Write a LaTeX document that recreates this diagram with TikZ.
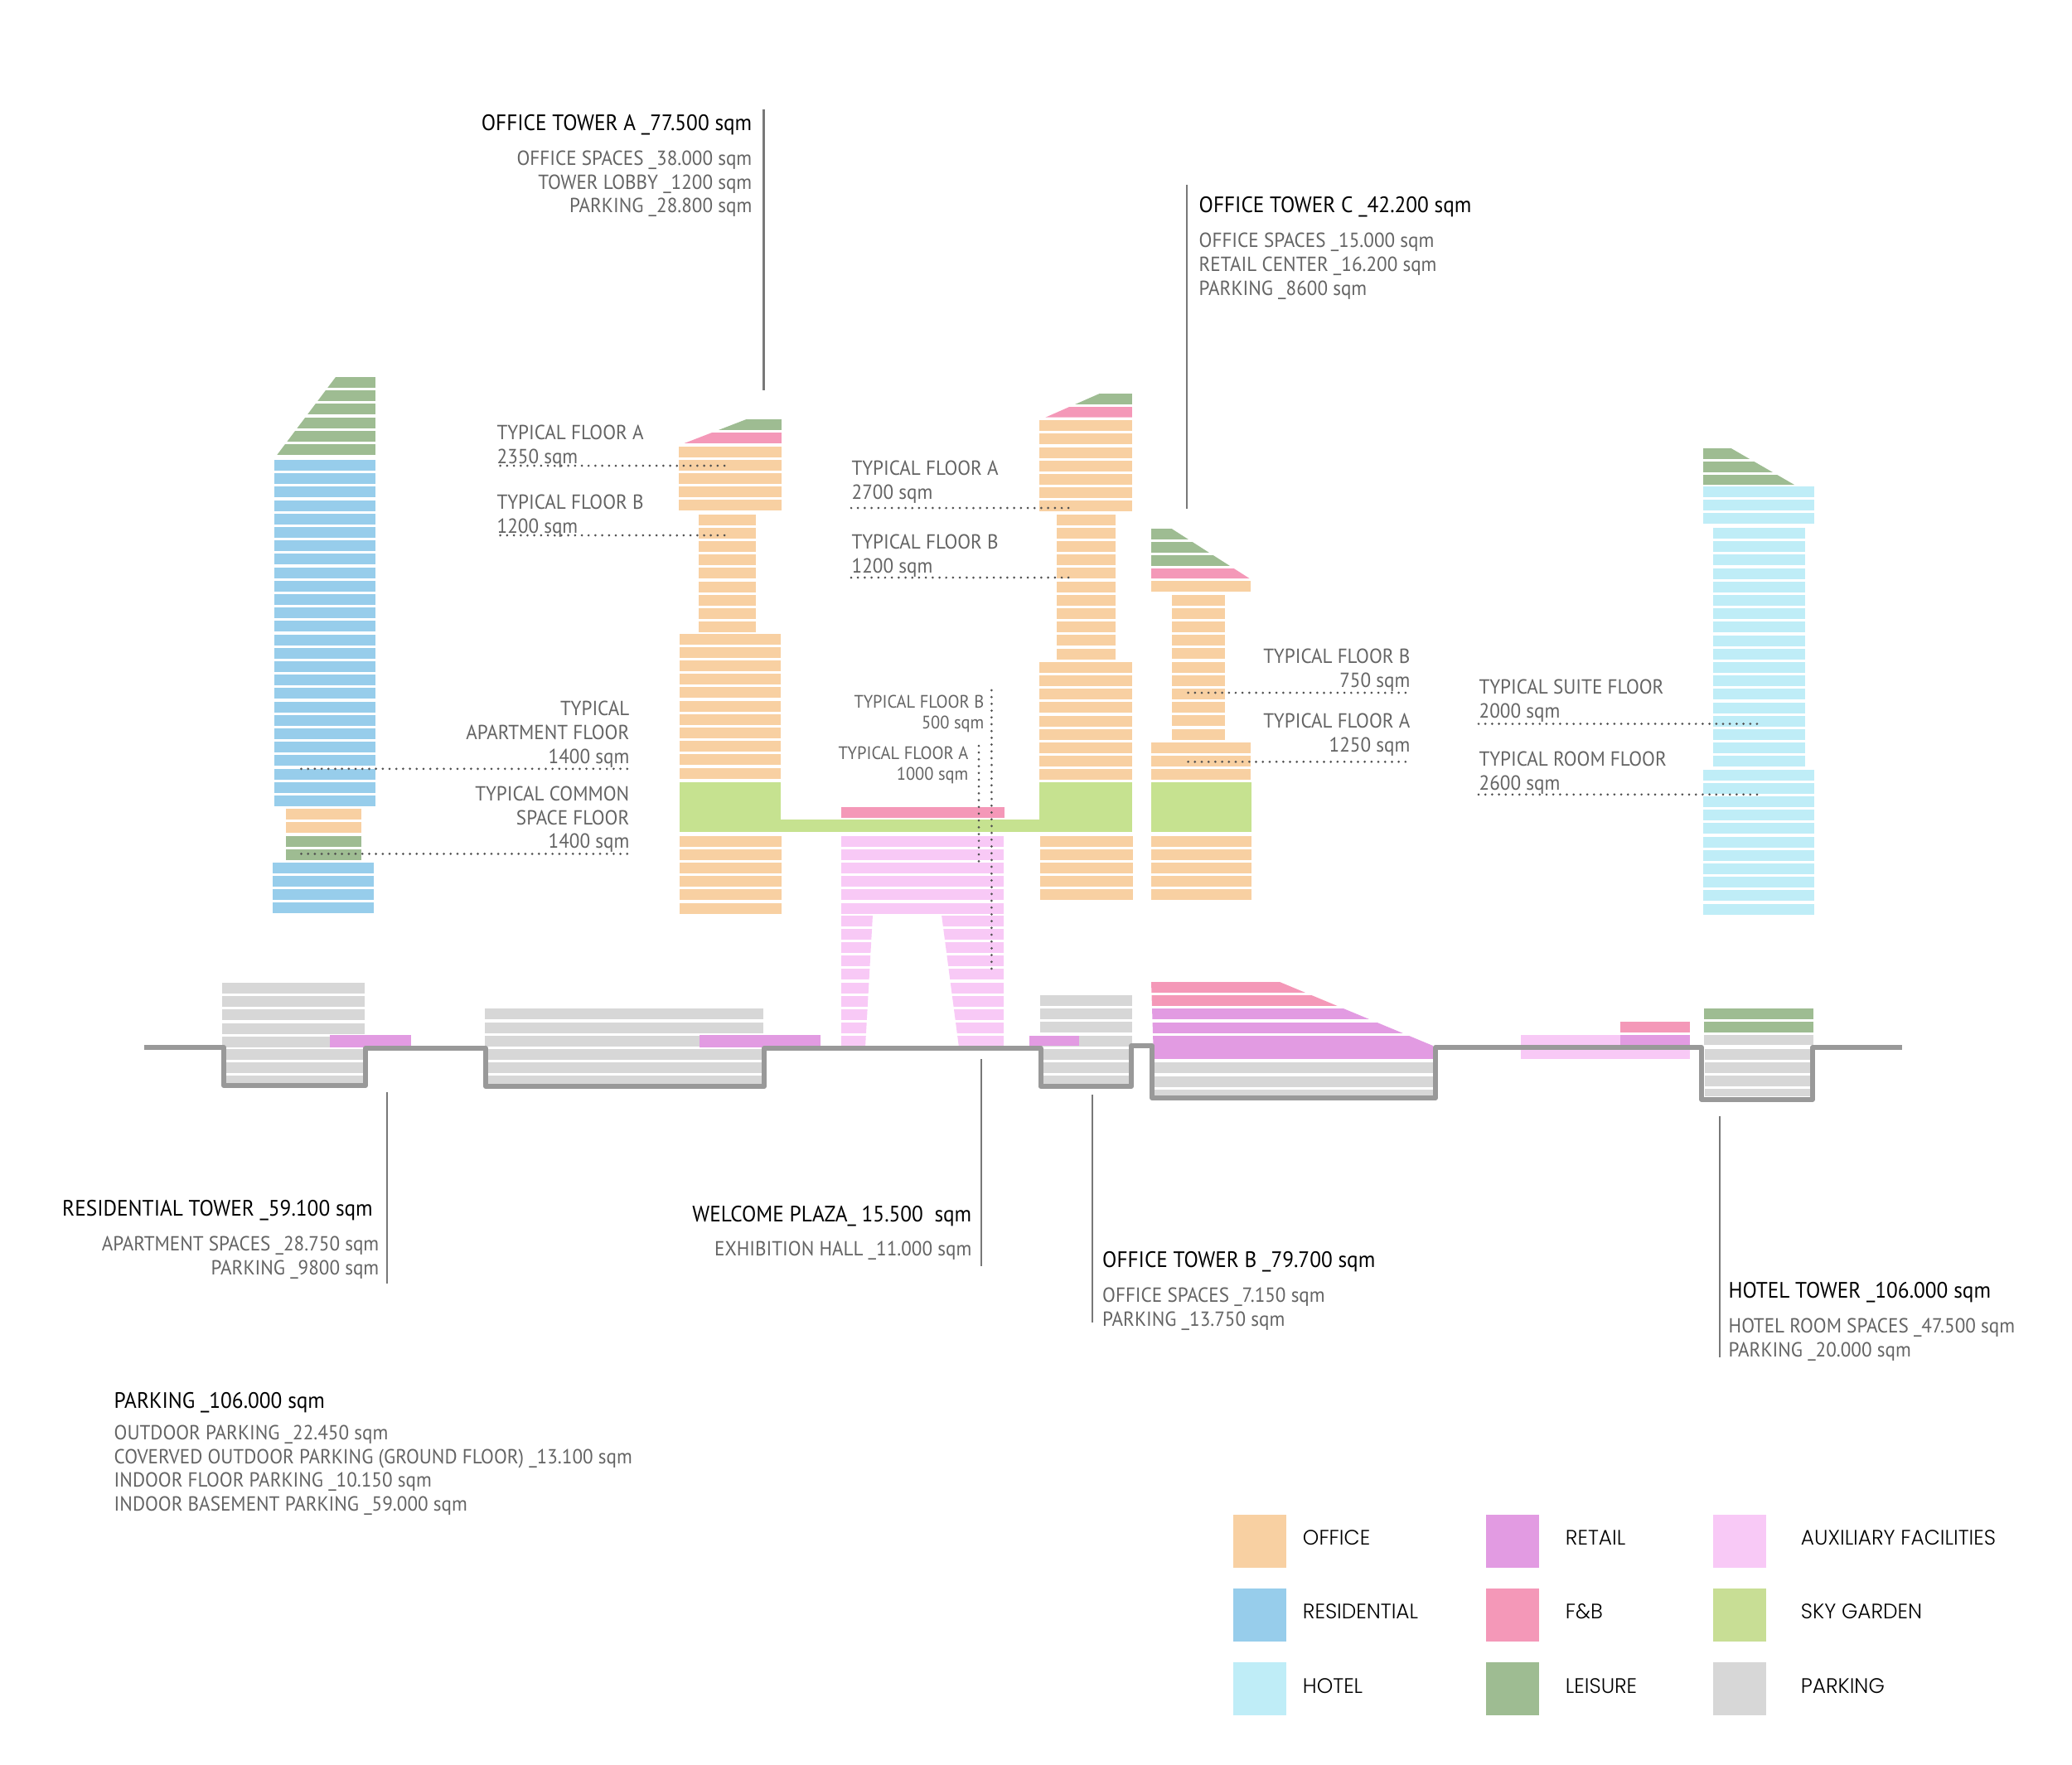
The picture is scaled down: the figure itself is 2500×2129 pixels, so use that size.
\documentclass[tikz,border=0pt]{standalone}
\usepackage{fontspec}
\setmainfont[FakeStretch=0.94]{PT Sans}
\newfontfamily\keyfont[FakeStretch=0.98,UprightFont=* Light]{Poppins}
\usetikzlibrary{positioning}
\definecolor{offorange}  {RGB}{248,208,162}
\definecolor{resblue}    {RGB}{151,205,235}
\definecolor{hotelcyan}  {RGB}{191,237,247}
\definecolor{retailmauve}{RGB}{226,155,226}
\definecolor{fnbpink}    {RGB}{244,152,184}
\definecolor{leisgreen}  {RGB}{158,188,146}
\definecolor{auxpink}    {RGB}{248,201,246}
\definecolor{skygreen}   {RGB}{198,226,144}
\definecolor{keygreen}   {RGB}{200,222,149}
\definecolor{parkgray}   {RGB}{215,215,215}
\definecolor{groundgray} {RGB}{153,153,153}
\definecolor{leadgray}   {RGB}{120,120,120}
\definecolor{lblgray}    {RGB}{100,100,100}
\newcommand{\floorstack}[5]{%
  \foreach \i in {1,...,#5}{%
    \pgfmathsetmacro\ya{#4+(\i-1)*16.2}
    \fill[#1](#2,\ya)rectangle(#3,\ya+13);
  }}
\tikzset{
  head/.style={font=\fontsize{7.65}{9}\selectfont,text=black,inner sep=0pt},
  lbl/.style={font=\fontsize{7}{8.2}\selectfont,text=lblgray,inner sep=0pt,align=left,anchor=north west},
  lblr/.style={lbl,align=right,anchor=north east},
  lblsm/.style={lblr,font=\fontsize{6.2}{7.25}\selectfont},
  leader/.style={draw=leadgray,line width=0.7pt},
  dots/.style={draw=lblgray!80!black,line width=0.85pt,line cap=round,dash pattern=on 0pt off 2.33pt},
  ground/.style={draw=groundgray,line width=1.7pt,line join=round},
  swatch/.style={minimum width=0.64cm,minimum height=0.64cm,inner sep=0pt},
  keylbl/.style={font=\keyfont\fontsize{7.2}{8}\selectfont,text=black,inner sep=0pt,yshift=0.04cm},
}
\begin{document}
\begin{tikzpicture}[x=0.01cm,y=-0.01cm]
  \useasboundingbox(0,0)rectangle(2500,2129);
  % Residential tower
  \begin{scope}
    \clip(405,455)--(453,455)--(453,552)--(332,552)--cycle;
    \floorstack{leisgreen}{330}{453}{455}{6}
  \end{scope}
  \floorstack{resblue}{331}{452.5}{555}{26}
  \floorstack{offorange}{345}{436}{975.5}{2}
  \floorstack{leisgreen}{345}{435.5}{1008.6}{2}
  \floorstack{resblue}{329}{450.5}{1040.7}{4}
  % Office tower A
  \begin{scope}
    \clip(900.5,506)--(943,506)--(943,535)--(825.5,535)--cycle;
    \floorstack{leisgreen}{820}{943}{506}{1}
    \floorstack{fnbpink}{820}{943}{522.3}{1}
  \end{scope}
  \floorstack{offorange}{819}{943}{538.5}{5}
  \floorstack{offorange}{842.5}{912}{620.6}{9}
  \floorstack{offorange}{820}{941.6}{764.5}{11}
  \fill[skygreen](820,943.6)rectangle(941.6,1003.7);
  \floorstack{offorange}{820}{943}{1008.6}{6}
  % Office tower B
  \begin{scope}
    \clip(1327.5,474.6)--(1366,474.6)--(1366,503.7)--(1261.4,503.7)--cycle;
    \floorstack{leisgreen}{1254}{1366}{474.8}{1}
    \floorstack{fnbpink}{1254}{1366}{491.2}{1}
  \end{scope}
  \floorstack{offorange}{1254}{1366}{507.2}{7}
  \floorstack{offorange}{1275}{1346.4}{620.6}{11}
  \floorstack{offorange}{1254}{1366}{798.8}{9}
  \fill[skygreen](941,988.5)rectangle(1366,1003.7);
  \fill[skygreen](1254,943.8)rectangle(1366,1003.7);
  \floorstack{offorange}{1255}{1367}{1008.6}{5}
  % Office tower C
  \begin{scope}
    \clip(1389,637.6)--(1413,637.6)--(1507.5,698)--(1389,698)--cycle;
    \floorstack{leisgreen}{1389}{1509}{637.6}{3}
    \floorstack{fnbpink}{1389}{1509}{686}{1}
  \end{scope}
  \floorstack{offorange}{1389}{1509}{701.4}{1}
  \floorstack{offorange}{1414.3}{1477.9}{717.5}{11}
  \floorstack{offorange}{1389}{1509}{896}{3}
  \fill[skygreen](1389,943.8)rectangle(1510,1003.7);
  \floorstack{offorange}{1389}{1510}{1008.6}{5}
  % Hotel tower
  \begin{scope}
    \clip(2055,536)--(2080,536)--(2165,585)--(2055,585)--cycle;
    \floorstack{leisgreen}{2055}{2189}{540.8}{3}
  \end{scope}
  \floorstack{hotelcyan}{2055}{2189}{587}{3}
  \floorstack{hotelcyan}{2067}{2178}{637}{18}
  \floorstack{hotelcyan}{2055}{2189}{928.6}{11}
  % Welcome plaza
  \fill[fnbpink](1015,974.2)rectangle(1212,987);
  \floorstack{auxpink}{1015}{1211.4}{1008.6}{6}
  \begin{scope}
    \clip(1015,1104)--(1053,1104)--(1044,1264)--(1015,1264)--cycle;
    \floorstack{auxpink}{1015}{1060}{1104.5}{10}
  \end{scope}
  \begin{scope}
    \clip(1136,1104)--(1211,1104)--(1211,1264)--(1157,1264)--cycle;
    \floorstack{auxpink}{1130}{1211}{1104.5}{10}
  \end{scope}
  % Podium and basements
  \floorstack{parkgray}{268}{440}{1186}{5}
  \floorstack{parkgray}{273}{438}{1266}{2}
  \fill[parkgray](273,1298.4)rectangle(438,1307);
  \fill[retailmauve](398,1249.3)rectangle(496,1264);
  \floorstack{parkgray}{585}{920.6}{1217.3}{3}
  \floorstack{parkgray}{589}{919}{1266}{2}
  \fill[parkgray](589,1298.4)rectangle(919,1308);
  \fill[retailmauve](844,1249.3)rectangle(989.5,1264);
  \floorstack{parkgray}{1254.5}{1365.7}{1201}{4}
  \floorstack{parkgray}{1258.6}{1362.7}{1265.7}{2}
  \fill[parkgray](1258.6,1298.4)rectangle(1362.7,1308);
  \fill[retailmauve](1241.7,1250)rectangle(1302.4,1262);
  \begin{scope}
    \clip(1389,1185)--(1544,1185)--(1729,1262)--(1732,1278.3)--(1392,1278.3)--cycle;
    \floorstack{fnbpink}{1389}{1735}{1185}{2}
    \floorstack{retailmauve}{1389}{1735}{1217.4}{2}
    \fill[retailmauve](1389,1250)rectangle(1735,1278.3);
  \end{scope}
  \floorstack{parkgray}{1392}{1729}{1282.3}{2}
  \fill[parkgray](1392,1314.7)rectangle(1729,1322);
  \fill[auxpink](1835,1249.3)rectangle(2039,1278.3);
  \fill[retailmauve](1955,1249.3)rectangle(2039,1266);
  \fill[fnbpink](1955,1233.3)rectangle(2039,1246);
  \floorstack{leisgreen}{2056}{2187.6}{1217}{2}
  \fill[parkgray](2056,1249.3)rectangle(2187.6,1261);
  \floorstack{parkgray}{2057}{2183.8}{1265.7}{3}
  \fill[parkgray](2057,1314.3)rectangle(2183.8,1323.3);
  % Ground
  \draw[ground](174,1264)--(270,1264)--(270,1310)--(441,1310)--(441,1265)
    --(586,1265)--(586,1311)--(922,1311)--(922,1265)--(1255.5,1265)--(1255.5,1311)
    --(1365,1311)--(1365,1262)--(1390,1262)--(1390,1325)--(1732,1325)--(1732,1264)
    --(2053,1264)--(2053,1326.7)--(2187,1326.7)--(2187,1264)--(2294.5,1264);

  % Leaders
  \draw[leader](921.5,132)--(921.5,471);
  \draw[leader](1432,223)--(1432,614);
  \draw[leader](467,1318)--(467,1549);
  \draw[leader](1184,1278)--(1184,1528);
  \draw[leader](1318,1321)--(1318,1596);
  \draw[leader](2075,1347)--(2075,1638);
  % Dotted lines
  \draw[dots](603.7,562)--(875,562);
  \draw[dots](603.7,646)--(875,646);
  \draw[dots](363.5,927.8)--(757,927.8);
  \draw[dots](363.5,1030.4)--(757,1030.4);
  \draw[dots](1027,613)--(1297,613);
  \draw[dots](1027,697)--(1297,697);
  \draw[dots](1196.4,833)--(1196.4,1172);
  \draw[dots](1181,900)--(1181,1042);
  \draw[dots](1433.6,836)--(1703,836);
  \draw[dots](1433.6,919.3)--(1703,919.3);
  \draw[dots](1784,873.5)--(2122,873.5);
  \draw[dots](1784,958.8)--(2122,958.8);

  % Headings and areas
  \node[head,anchor=east](towera)at(908,150.5){OFFICE TOWER A \_77.500 sqm};
  \node[lblr](toweraareas)at(908,181){OFFICE SPACES \_38.000 sqm\\TOWER LOBBY \_1200 sqm\\PARKING \_28.800 sqm};
  \node[head,anchor=west](towerc)at(1446,249.5){OFFICE TOWER C \_42.200 sqm};
  \node[lbl](towercareas)at(1446,280.5){OFFICE SPACES \_15.000 sqm\\RETAIL CENTER \_16.200 sqm\\PARKING \_8600 sqm};
  \node[head,anchor=east](resid)at(450.5,1461){RESIDENTIAL TOWER \_59.100 sqm};
  \node[lblr](residareas)at(458,1491.5){APARTMENT SPACES \_28.750 sqm\\PARKING \_9800 sqm};
  \node[head,anchor=east](plaza)at(1173,1467.5){WELCOME PLAZA\_ 15.500\ \ sqm};
  \node[lblr](plazaareas)at(1173,1497){EXHIBITION HALL \_11.000 sqm};
  \node[head,anchor=west](towerb)at(1329.5,1523){OFFICE TOWER B \_79.700 sqm};
  \node[lbl](towerbareas)at(1329.5,1553.5){OFFICE SPACES \_7.150 sqm\\PARKING \_13.750 sqm};
  \node[head,anchor=west](hotel)at(2085,1560){HOTEL TOWER \_106.000 sqm};
  \node[lbl](hotelareas)at(2085,1590.5){HOTEL ROOM SPACES \_47.500 sqm\\PARKING \_20.000 sqm};
  \node[head,anchor=west](parking)at(137,1692.5){PARKING \_106.000 sqm};
  \node[lbl](parkingareas)at(137,1719){OUTDOOR PARKING \_22.450 sqm\\COVERVED OUTDOOR PARKING (GROUND FLOOR) \_13.100 sqm\\INDOOR FLOOR PARKING \_10.150 sqm\\INDOOR BASEMENT PARKING \_59.000 sqm};

  % Typical floors
  \node[lbl](afloora)at(599,512){TYPICAL FLOOR A\\2350 sqm};
  \node[lbl](afloorb)at(599,596){TYPICAL FLOOR B\\1200 sqm};
  \node[lblr](apartment)at(760,845.5){TYPICAL\\APARTMENT FLOOR\\1400 sqm};
  \node[lblr](common)at(760,948){TYPICAL COMMON\\SPACE FLOOR\\1400 sqm};
  \node[lbl](bfloora)at(1027,555.5){TYPICAL FLOOR A\\2700 sqm};
  \node[lbl](bfloorb)at(1027,644.5){TYPICAL FLOOR B\\1200 sqm};
  \node[lblsm](pfloorb)at(1188,838){TYPICAL FLOOR B\\500 sqm};
  \node[lblsm](pfloora)at(1169,900){TYPICAL FLOOR A\\1000 sqm};
  \node[lblr](cfloorb)at(1702,782.5){TYPICAL FLOOR B\\750 sqm};
  \node[lblr](cfloora)at(1702,860){TYPICAL FLOOR A\\1250 sqm};
  \node[lbl](suite)at(1784,819){TYPICAL SUITE FLOOR\\2000 sqm};
  \node[lbl](room)at(1784,906){TYPICAL ROOM FLOOR\\2600 sqm};

  % Legend
  \node[swatch,fill=offorange](keyoffice)at(1520,1860){};
  \node[swatch,fill=resblue,below=0.236cm of keyoffice](keyresid){};
  \node[swatch,fill=hotelcyan,below=0.236cm of keyresid](keyhotel){};
  \node[swatch,fill=retailmauve](keyretail)at(1825,1860){};
  \node[swatch,fill=fnbpink,below=0.236cm of keyretail](keyfnb){};
  \node[swatch,fill=leisgreen,below=0.236cm of keyfnb](keyleisure){};
  \node[swatch,fill=auxpink](keyaux)at(2099,1860){};
  \node[swatch,fill=keygreen,below=0.236cm of keyaux](keysky){};
  \node[swatch,fill=parkgray,below=0.236cm of keysky](keypark){};
  \node[keylbl,right=0.185cm of keyoffice](txtoffice){OFFICE};
  \node[keylbl,right=0.185cm of keyresid](txtresid){RESIDENTIAL};
  \node[keylbl,right=0.185cm of keyhotel](txthotel){HOTEL};
  \node[keylbl,right=0.305cm of keyretail](txtretail){RETAIL};
  \node[keylbl,right=0.305cm of keyfnb](txtfnb){F\&B};
  \node[keylbl,right=0.305cm of keyleisure](txtleisure){LEISURE};
  \node[keylbl,right=0.405cm of keyaux](txtaux){AUXILIARY FACILITIES};
  \node[keylbl,right=0.405cm of keysky](txtsky){SKY GARDEN};
  \node[keylbl,right=0.405cm of keypark](txtpark){PARKING};
\end{tikzpicture}
\end{document}
